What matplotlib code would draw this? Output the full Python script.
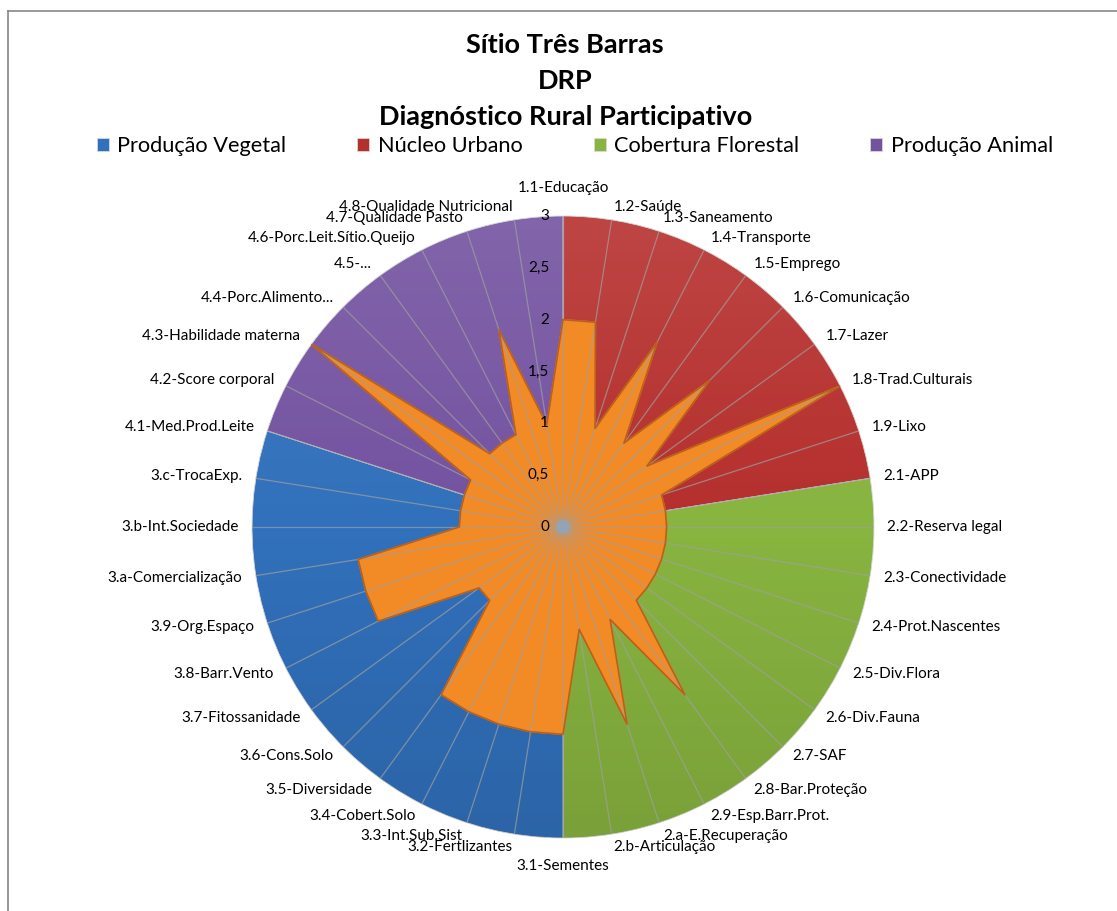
import numpy as np
import matplotlib.pyplot as plt
from matplotlib.lines import Line2D
from matplotlib.patches import Circle

plt.rcParams['font.family'] = ['Lato', 'DejaVu Sans']

# categories (clockwise from the top)
labels = [
    "1.1-Educação", "1.2-Saúde", "1.3-Saneamento", "1.4-Transporte", "1.5-Emprego",
    "1.6-Comunicação", "1.7-Lazer", "1.8-Trad.Culturais", "1.9-Lixo",
    "2.1-APP", "2.2-Reserva legal", "2.3-Conectividade", "2.4-Prot.Nascentes",
    "2.5-Div.Flora", "2.6-Div.Fauna", "2.7-SAF", "2.8-Bar.Proteção",
    "2.9-Esp.Barr.Prot.", "2.a-E.Recuperação", "2.b-Articulação",
    "3.1-Sementes", "3.2-Fertlizantes", "3.3-Int.Sub.Sist", "3.4-Cobert.Solo",
    "3.5-Diversidade", "3.6-Cons.Solo", "3.7-Fitossanidade", "3.8-Barr.Vento",
    "3.9-Org.Espaço", "3.a-Comercialização", "3.b-Int.Sociedade", "3.c-TrocaExp.",
    "4.1-Med.Prod.Leite", "4.2-Score corporal", "4.3-Habilidade materna",
    "4.4-Porc.Alimento...", "4.5-...", "4.6-Porc.Leit.Sítio.Queijo",
    "4.7-Qualidade Pasto", "4.8-Qualidade Nutricional",
]
values = [
    2, 2, 1, 2, 1, 2, 1, 3, 1,
    1, 1, 1, 1, 1, 1, 1, 2, 1, 2, 1,
    2, 2, 2, 2, 2, 1, 1, 2, 2, 2, 1, 1,
    1, 1, 3, 1, 1, 1, 2, 1,
]

# background groups (pie), clockwise from the top
groups = ["Núcleo Urbano", "Cobertura Florestal", "Produção Vegetal", "Produção Animal"]
group_sizes = [9, 11, 12, 8]
group_colors = ["#B52F2D", "#88B440", "#3170BB", "#7352A0"]
legend_order = [2, 0, 1, 3]

r_ticks = [0, 0.5, 1, 1.5, 2, 2.5, 3]
r_tick_labels = ["0", "0,5", "1", "1,5", "2", "2,5", "3"]

W, H = 1117, 911
fig = plt.figure(figsize=(W / 100, H / 100), dpi=100)

# axes box: centre (563, 527) px, radius 311 px
cx, cy, R = 563, 527, 311
rect = [(cx - R) / W, (H - cy - R) / H, 2 * R / W, 2 * R / H]

# pie behind the radar
ax_bg = fig.add_axes(rect)
wedges, _ = ax_bg.pie(group_sizes, colors=group_colors, startangle=90,
                      counterclock=False, radius=1,
                      wedgeprops=dict(linewidth=0.6, edgecolor="#d8d8d8"))
ax_bg.set_xlim(-1, 1)
ax_bg.set_ylim(-1, 1)
ax_bg.set_aspect("equal")
ax_bg.axis("off")

# slightly lighter top / darker bottom over the pie
t = np.linspace(0, 1, 256)[:, None]
grad = np.zeros((256, 2, 4))
grad[..., 0] = np.where(t < 0.5, 1.0, 0.0)
grad[..., 1] = grad[..., 0]
grad[..., 2] = grad[..., 0]
grad[..., 3] = np.abs(t - 0.5) * 0.22
img = ax_bg.imshow(grad, extent=(-1, 1, -1, 1), origin="upper", aspect="auto", zorder=3)
img.set_clip_path(Circle((0, 0), 1, transform=ax_bg.transData))

# radar on top
ax = fig.add_axes(rect, projection="polar")
ax.patch.set_alpha(0)
ax.set_theta_zero_location("N")
ax.set_theta_direction(-1)

n = len(labels)
theta = np.arange(n) * 2 * np.pi / n
tc = np.append(theta, theta[0])
vc = np.append(values, values[0])
ax.fill(tc, vc, color="#F28A26", zorder=2)
ax.plot(tc, vc, color="#B9601A", lw=1.2, zorder=3)

ax.set_ylim(0, 3)
ax.set_xticks(theta)
ax.set_xticklabels([])
ax.set_yticks(r_ticks)
ax.set_yticklabels([])
ax.yaxis.grid(False)
ax.xaxis.grid(True, color="#a0a0a0", lw=0.9, alpha=0.7)
ax.set_axisbelow(False)
ax.spines["polar"].set_visible(False)

# centre dot
ax.scatter([0], [0], s=100, color="#94a4b4", zorder=5, edgecolors="none")

# radial tick labels, left of the vertical axis
for r, lab in zip(r_ticks, r_tick_labels):
    ax.annotate(lab, xy=(0, r), xytext=(-10, 0), textcoords="offset points",
                ha="right", va="center", fontsize=11, color="#000000", zorder=6)

# category labels around the circle
for th, lab in zip(theta, labels):
    deg = np.degrees(th)
    rr = 3.13
    if np.isclose(deg, 0):
        ha, va, rr = "center", "bottom", 3.2
    elif np.isclose(deg, 180):
        ha, va, rr = "center", "top", 3.2
    elif deg < 180:
        ha, va = "left", "center"
    else:
        ha, va = "right", "center"
    ax.text(th, rr, lab, ha=ha, va=va, fontsize=11, color="#000000")

# titles
for y, txt in [(45, "Sítio Três Barras"), (81, "DRP"),
               (117, "Diagnóstico Rural Participativo")]:
    fig.text(0.506, 1 - y / H, txt, ha="center", va="center",
             fontsize=19.5, fontweight="bold")

fig.legend([wedges[i] for i in legend_order], [groups[i] for i in legend_order],
           loc="center", bbox_to_anchor=(0.5148, 1 - 146 / H), ncol=4,
           frameon=False, fontsize=15.7, handlelength=0.55, handleheight=0.55,
           handletextpad=0.4, columnspacing=3.25)

# chart border
fig.add_artist(Line2D([8 / W, 8 / W], [0, 1 - 11 / H], color="#888888", lw=1.2))
fig.add_artist(Line2D([8 / W, 1], [1 - 11 / H, 1 - 11 / H], color="#888888", lw=1.2))

fig.savefig("out.png", dpi=100)
